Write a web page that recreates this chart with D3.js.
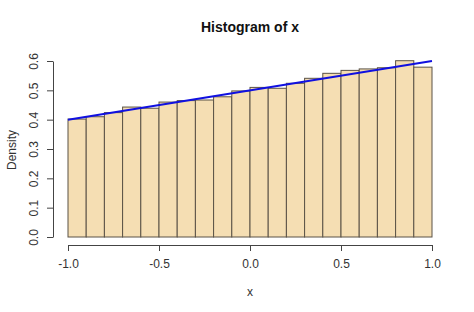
<!DOCTYPE html>
<html>
<head>
<meta charset="utf-8">
<style>
  body { margin: 0; background: #fff; }
  text { font-family: "Liberation Sans", Arial, sans-serif; }
</style>
</head>
<body>
<svg width="474" height="312"></svg>
<script src="https://cdn.jsdelivr.net/npm/d3@7"></script>
<script>
// bin edges and densities
var binStarts = [-1.0, -0.9, -0.8, -0.7, -0.6, -0.5, -0.4, -0.3, -0.2, -0.1,
                  0.0,  0.1,  0.2,  0.3,  0.4,  0.5,  0.6,  0.7,  0.8,  0.9];
var densities = [0.402, 0.410, 0.424, 0.443, 0.439, 0.460, 0.465, 0.467, 0.478, 0.498,
                 0.510, 0.507, 0.524, 0.541, 0.558, 0.568, 0.573, 0.577, 0.601, 0.579];
var binWidth = 0.1;
var lineX = [-1, 1];
var lineY = [0.4, 0.6];
var xTicks = [-1.0, -0.5, 0.0, 0.5, 1.0];
var yTicks = [0.0, 0.1, 0.2, 0.3, 0.4, 0.5, 0.6];

var svg = d3.select("svg");

var x = d3.scaleLinear().domain([-1, 1]).range([68, 432]);
var y = d3.scaleLinear().domain([0, 0.6]).range([237, 61]);

// R prints a plain hyphen, not the unicode minus
var fmt = function(d) { return d.toFixed(1); };

// bars
svg.selectAll(".bar")
  .data(binStarts)
  .enter().append("rect")
    .attr("class", "bar")
    .attr("x", function(d) { return x(d); })
    .attr("y", function(d, i) { return y(densities[i]); })
    .attr("width", function(d) { return x(d + binWidth) - x(d); })
    .attr("height", function(d, i) { return y(0) - y(densities[i]); })
    .attr("fill", "#f5deb3")
    .attr("stroke", "#5a5246")
    .attr("stroke-width", 1);

// density line
var line = d3.line()
  .x(function(d) { return x(d[0]); })
  .y(function(d) { return y(d[1]); });

svg.append("path")
  .datum(d3.zip(lineX, lineY))
  .attr("d", line)
  .attr("fill", "none")
  .attr("stroke", "#1010e0")
  .attr("stroke-width", 2);

// x axis
var gx = svg.append("g")
  .attr("transform", "translate(0,245)")
  .call(d3.axisBottom(x).tickValues(xTicks).tickSize(6).tickSizeOuter(0)
    .tickFormat(fmt));

// y axis
var gy = svg.append("g")
  .attr("transform", "translate(53,0)")
  .call(d3.axisLeft(y).tickValues(yTicks).tickSize(6).tickSizeOuter(0)
    .tickFormat(fmt));

[gx, gy].forEach(function(g) {
  g.select(".domain").attr("stroke", "#444");
  g.selectAll(".tick line").attr("stroke", "#444");
  g.selectAll(".tick text")
    .attr("fill", "#333")
    .style("font-size", "12px")
    .style("font-family", "Liberation Sans, Arial, sans-serif");
});

gx.selectAll(".tick text").attr("y", 14);

gy.selectAll(".tick text")
  .attr("x", 0)
  .attr("dy", 0)
  .attr("text-anchor", "middle")
  .attr("transform", "translate(-19,0) rotate(-90)")
  .attr("y", 4);

// title and axis labels
svg.append("text")
  .attr("x", 250)
  .attr("y", 32)
  .attr("text-anchor", "middle")
  .style("font-size", "14px")
  .style("font-weight", "bold")
  .attr("fill", "#111")
  .text("Histogram of x");

svg.append("text")
  .attr("x", 250)
  .attr("y", 296)
  .attr("text-anchor", "middle")
  .style("font-size", "12px")
  .attr("fill", "#333")
  .text("x");

svg.append("text")
  .attr("transform", "translate(16,150) rotate(-90)")
  .attr("text-anchor", "middle")
  .style("font-size", "12px")
  .attr("fill", "#333")
  .text("Density");
</script>
</body>
</html>
